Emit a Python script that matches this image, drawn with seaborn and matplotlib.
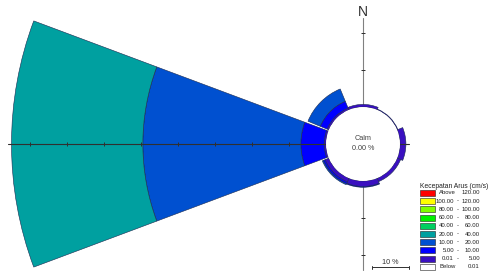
import numpy as np
import matplotlib
matplotlib.use("Agg")
import matplotlib.pyplot as plt
import seaborn as sns
from matplotlib.patches import Rectangle

sns.set_theme(style="white")
plt.rcParams['font.family'] = ['Liberation Sans', 'DejaVu Sans']

# directions (deg, clockwise from north) and frequency (%) per speed class
directions = [0, 45, 90, 135, 180, 225, 270, 315]
freq_001_5 = [0.7, 0.2, 1.6, 1.0, 1.5, 1.1, 0.5, 0.5]
freq_5_10 = [0.0, 0.0, 0.0, 0.0, 0.2, 0.5, 6.3, 2.0]
freq_10_20 = [0.0, 0.0, 0.0, 0.0, 0.0, 0.3, 42.7, 3.6]
freq_20_40 = [0.0, 0.0, 0.0, 0.0, 0.0, 0.0, 35.5, 0.0]
calm_pct = "0.00 %"

legend_title = "Kecepatan Arus (cm/s)"
legend_lo = ["Above", "100.00", "80.00", "60.00", "40.00", "20.00", "10.00", "5.00", "0.01", "Below"]
legend_hi = ["120.00", "120.00", "100.00", "80.00", "60.00", "40.00", "20.00", "10.00", "5.00", "0.01"]
legend_colors = ["#ff0000", "#ffff00", "#80ff00", "#00f000", "#00d060", "#00a0a0",
                 "#0050d0", "#0000ff", "#3a10c0", "#ffffff"]

series = [freq_001_5, freq_5_10, freq_10_20, freq_20_40]
series_colors = ["#3a10c0", "#0000ff", "#0050d0", "#00a0a0"]

W, H = 491, 273
fig = plt.figure(figsize=(W / 100, H / 100), dpi=100)

# polar axes centred on the calm circle, larger than the figure
cx, cy = 363, 273 - 144
calm_r = 10.0     # calm circle radius in % units
rmax = 90.0
R_px = 370.0
px_per_unit = R_px / (rmax + calm_r)
ax = fig.add_axes([(cx - R_px) / W, (cy - R_px) / H, 2 * R_px / W, 2 * R_px / H],
                  projection='polar')
ax.set_theta_zero_location('N')
ax.set_theta_direction(-1)
ax.set_rorigin(-calm_r)
ax.set_rlim(0, rmax)
ax.axis('off')

theta = np.deg2rad(directions)
# the long west petal is drawn a bit narrower than the others
width = np.deg2rad(np.where(np.array(directions) == 270, 41, 45))
bottom = np.zeros(len(directions))
for vals, col in zip(series, series_colors):
    vals = np.array(vals)
    mask = vals > 0
    ax.bar(theta[mask], vals[mask], width=width[mask], bottom=bottom[mask], color=col,
           edgecolor='#1a2a50', linewidth=0.4, zorder=3)
    bottom = bottom + vals

# calm circle outline
tt = np.linspace(0, 2 * np.pi, 361)
ax.plot(tt, np.zeros_like(tt), color='#909090', lw=0.6, zorder=2)

# axis lines with 10 % ticks
axis_len = {0: 24, 90: 2.5, 180: 24, 270: 86}
for d, L in axis_len.items():
    th = np.deg2rad(d)
    ax.plot([th, th], [0, L], color='#808080' if d in (0, 180) else '#303030',
            lw=0.8, zorder=4 if d in (90, 270) else 2)
    ticks = np.arange(10, L, 10)
    if len(ticks):
        ax.plot(np.full(len(ticks), th), ticks, linestyle='none',
                marker='_' if d in (0, 180) else '|', ms=3, mew=0.7,
                color='#303030', zorder=5)

fig.text(cx / W, 1 - 12 / H, "N", ha='center', va='center', fontsize=10, color='#303030')
fig.text(cx / W, 1 - 139 / H, "Calm", ha='center', va='center', fontsize=5.2, color='#404040')
fig.text(cx / W, 1 - 149 / H, calm_pct, ha='center', va='center', fontsize=5.2, color='#404040')

# scale bar (10 %)
x0 = 372
x1 = x0 + 10 * px_per_unit
yb = 1 - 267 / H
fig.add_artist(plt.Line2D([x0 / W, x1 / W], [yb, yb], color='#303030', lw=0.7))
for xe in (x0, x1):
    fig.add_artist(plt.Line2D([xe / W, xe / W], [yb - 1.5 / H, yb + 1.5 / H], color='#303030', lw=0.7))
fig.text((x0 + x1) / 2 / W, 1 - 262 / H, "10 %", ha='center', va='center', fontsize=5.2, color='#303030')

# legend
fs = 4.3
fig.text(420 / W, 1 - 186 / H, legend_title, ha='left', va='center', fontsize=4.9, color='#202020')
for i, (lo, hi, col) in enumerate(zip(legend_lo, legend_hi, legend_colors)):
    yc = 193 + i * 8.2
    fig.add_artist(Rectangle((420 / W, 1 - (yc + 3) / H), 15 / W, 6 / H, transform=fig.transFigure,
                             facecolor=col, edgecolor='#202020', lw=0.4))
    if lo in ("Above", "Below"):
        fig.text(439 / W, 1 - yc / H, lo, ha='left', va='center', fontsize=fs, color='#202020')
    else:
        fig.text(454 / W, 1 - yc / H, lo, ha='right', va='center', fontsize=fs, color='#202020')
        fig.text(457.5 / W, 1 - yc / H, "-", ha='center', va='center', fontsize=fs, color='#202020')
    fig.text(480 / W, 1 - yc / H, hi, ha='right', va='center', fontsize=fs, color='#202020')

fig.savefig("out.png", dpi=100)
